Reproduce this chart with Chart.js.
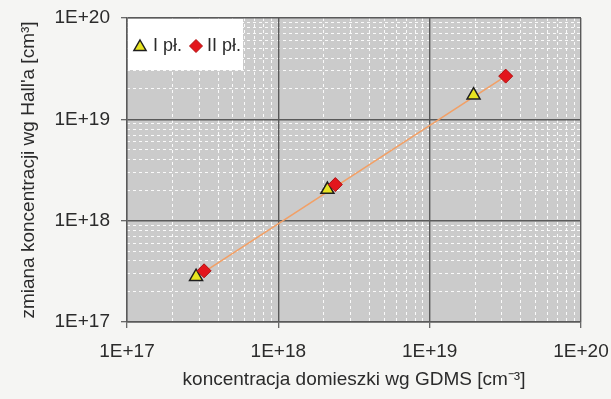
<!DOCTYPE html>
<html>
<head>
<meta charset="utf-8">
<script src="https://cdn.jsdelivr.net/npm/chart.js@4/dist/chart.umd.min.js"></script>
<style>
  html, body { margin: 0; padding: 0; background: #f5f5f3; }
  #wrap { width: 611px; height: 399px; }
</style>
</head>
<body>
<div id="wrap"><canvas id="c" width="611" height="399"></canvas></div>
<script>
// Series: dopant concentration (GDMS) vs. change of Hall concentration
const seriesNames = ['I pł.', 'II pł.'];
const gdmsI  = [2.86e17, 2.11e18, 1.95e19];
const hallI  = [2.80e17, 2.03e18, 1.73e19];
const gdmsII = [3.23e17, 2.38e18, 3.18e19];
const hallII = [3.20e17, 2.27e18, 2.67e19];
// Trend line end points
const trendX = [3.0e17, 3.18e19];
const trendY = [2.9e17, 2.67e19];
// Axis decades and their labels
const decadeValues = [1e17, 1e18, 1e19, 1e20];
const decadeLabels = ['1E+17', '1E+18', '1E+19', '1E+20'];
const xTitle = 'koncentracja domieszki wg GDMS [cm⁻³]';
const yTitle = "zmiana koncentracji wg Hall'a [cm³]";

const FONT = "'Liberation Sans', Arial, sans-serif";
const TEXT = '#2b2b2b';
const MAJOR = '#5a5a5a';

// minor tick positions (2..9 within each decade)
const minorValues = [];
for (let d = 0; d < decadeValues.length - 1; d++) {
  for (let m = 2; m <= 9; m++) minorValues.push(m * decadeValues[d]);
}

const pairs = (xs, ys) => xs.map((x, i) => ({ x, y: ys[i] }));

const plotBackground = {
  id: 'plotBackground',
  beforeDraw(chart) {
    const { ctx, chartArea: a } = chart;
    ctx.save();
    ctx.fillStyle = '#cbcbcb';
    ctx.fillRect(a.left, a.top, a.right - a.left, a.bottom - a.top);
    ctx.restore();
  }
};

function drawTriangle(ctx, x, y, r) {
  ctx.beginPath();
  ctx.moveTo(x, y - r);
  ctx.lineTo(x + r * 0.866, y + r * 0.5);
  ctx.lineTo(x - r * 0.866, y + r * 0.5);
  ctx.closePath();
}
function drawDiamond(ctx, x, y, r) {
  ctx.beginPath();
  ctx.moveTo(x, y - r);
  ctx.lineTo(x + r, y);
  ctx.lineTo(x, y + r);
  ctx.lineTo(x - r, y);
  ctx.closePath();
}

// White legend box in the upper-left corner of the plot
const insetLegend = {
  id: 'insetLegend',
  afterDatasetsDraw(chart) {
    const { ctx, chartArea: a } = chart;
    const ds = chart.data.datasets;
    ctx.save();
    ctx.fillStyle = '#ffffff';
    ctx.fillRect(a.left + 1, a.top + 1, 115, 51);
    ctx.font = '18px ' + FONT;
    ctx.textBaseline = 'middle';
    const cy = a.top + 28;
    // first series
    drawTriangle(ctx, a.left + 13, cy + 1, 7);
    ctx.fillStyle = ds[0].backgroundColor; ctx.fill();
    ctx.lineWidth = 1.5; ctx.strokeStyle = ds[0].borderColor; ctx.stroke();
    ctx.fillStyle = TEXT;
    ctx.fillText(ds[0].label, a.left + 26, cy);
    // second series
    drawDiamond(ctx, a.left + 69, cy, 6.5);
    ctx.fillStyle = ds[1].backgroundColor; ctx.fill();
    ctx.lineWidth = 1; ctx.strokeStyle = ds[1].borderColor; ctx.stroke();
    ctx.fillStyle = TEXT;
    ctx.fillText(ds[1].label, a.left + 80, cy);
    ctx.restore();
  }
};

// labels may overhang the plot edges; the layout padding alone sets the margins
const noOverhang = s => { s.paddingLeft = 0; s.paddingRight = 0; s.paddingTop = 0; s.paddingBottom = 0; };

const minorAxis = (position) => ({
  type: 'logarithmic',
  position,
  min: decadeValues[0],
  max: decadeValues[decadeValues.length - 1],
  z: -1,
  afterBuildTicks: s => { s.ticks = minorValues.map(v => ({ value: v })); },
  afterFit: s => { noOverhang(s); if (position === 'bottom') s.height = 0; else s.width = 0; },
  ticks: { display: false },
  grid: { color: 'rgba(255,255,255,0.9)', lineWidth: 1, drawTicks: false },
  border: { display: false, dash: [3, 3] }
});

const majorAxis = (position, title, size, tickPad, titlePad) => ({
  type: 'logarithmic',
  position,
  min: decadeValues[0],
  max: decadeValues[decadeValues.length - 1],
  afterBuildTicks: s => { s.ticks = decadeValues.map(v => ({ value: v })); },
  afterFit: s => { noOverhang(s); if (position === 'bottom') s.height = size; else s.width = size; },
  ticks: {
    autoSkip: false,
    maxRotation: 0,
    color: TEXT,
    font: { family: FONT, size: 19 },
    padding: tickPad,
    callback: (v, i) => decadeLabels[i]
  },
  grid: { color: MAJOR, lineWidth: 1.4, tickLength: 6, tickColor: MAJOR, tickWidth: 1.2 },
  border: { color: MAJOR, width: 1.4 },
  title: {
    display: true,
    text: title,
    color: TEXT,
    font: { family: FONT, size: 19 },
    padding: titlePad
  }
});

new Chart(document.getElementById('c'), {
  type: 'scatter',
  data: {
    datasets: [
      {
        label: seriesNames[0],
        data: pairs(gdmsI, hallI),
        pointStyle: 'triangle',
        pointRadius: 7.5,
        pointHoverRadius: 7.5,
        backgroundColor: '#e8e420',
        borderColor: '#1e1e1e',
        borderWidth: 1.5,
        order: 2
      },
      {
        label: seriesNames[1],
        data: pairs(gdmsII, hallII),
        pointStyle: 'rectRot',
        pointRadius: 7,
        pointHoverRadius: 7,
        backgroundColor: '#e3161c',
        borderColor: '#b01010',
        borderWidth: 1,
        order: 1
      },
      {
        label: 'trend',
        data: pairs(trendX, trendY),
        showLine: true,
        pointRadius: 0,
        borderColor: '#f2a066',
        borderWidth: 1.6,
        order: 3
      }
    ]
  },
  options: {
    responsive: false,
    animation: false,
    events: [],
    layout: { padding: { left: 0, top: 18, right: 30, bottom: 0 } },
    plugins: { legend: { display: false }, tooltip: { enabled: false } },
    scales: {
      x2: minorAxis('bottom'),
      y2: minorAxis('left'),
      x: majorAxis('bottom', xTitle, 77, 12, { top: 0, bottom: 8 }),
      y: majorAxis('left', yTitle, 127, 11, { top: 17, bottom: 0 })
    }
  },
  plugins: [plotBackground, insetLegend]
});
</script>
</body>
</html>
